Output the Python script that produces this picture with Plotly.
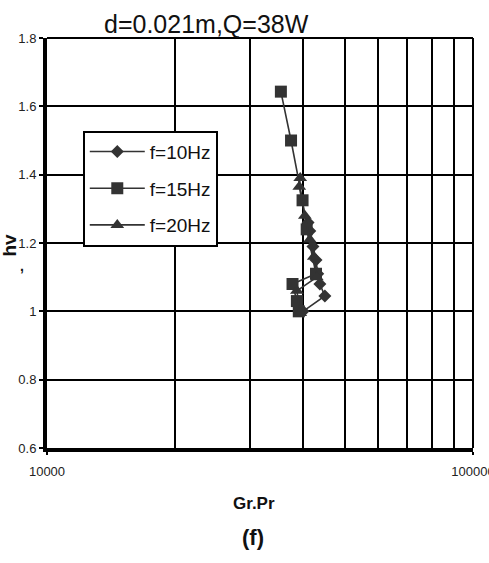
import plotly.graph_objects as go

# ---- data ----
f10_x = [39900, 44900, 43700, 43200, 42800, 42100, 41400, 41000]
f10_y = [1.00, 1.045, 1.08, 1.11, 1.15, 1.19, 1.235, 1.26]

f15_x = [35400, 37400, 39800, 40700, 42800, 37700, 38600, 39000]
f15_y = [1.643, 1.50, 1.325, 1.24, 1.11, 1.08, 1.03, 1.00]

f20_x = [39300, 39100, 40300, 41400, 42300, 43000, 38600, 39300]
f20_y = [1.39, 1.365, 1.28, 1.21, 1.16, 1.10, 1.06, 0.995]

series_names = ["f=10Hz", "f=15Hz", "f=20Hz"]
x_ticks = [10000, 100000]
x_ticktext = ["10000", "100000"]
x_minor = [20000, 30000, 40000, 50000, 60000, 70000, 80000, 90000]
y_ticks = [0.6, 0.8, 1.0, 1.2, 1.4, 1.6, 1.8]
y_ticktext = ["0.6", "0.8", "1", "1.2", "1.4", "1.6", "1.8"]

FONT = "Arial, Liberation Sans, sans-serif"
MARK = "#333333"

fig = go.Figure()
specs = [(f10_x, f10_y, "diamond", 10), (f15_x, f15_y, "square", 12), (f20_x, f20_y, "triangle-up", 12)]
for name, (xs, ys, sym, sz) in zip(series_names, specs):
    fig.add_trace(go.Scatter(
        x=xs, y=ys, mode="lines+markers", name=name, legendgroup=name,
        line=dict(color=MARK, width=1.6),
        marker=dict(symbol=sym, size=sz, color=MARK, line=dict(width=0)),
    ))

fig.update_layout(
    width=489, height=563,
    margin=dict(l=47, r=16, t=38, b=115, autoexpand=False),
    paper_bgcolor="white", plot_bgcolor="white",
    font=dict(family=FONT, color="#222222", size=13),
    showlegend=True,
    legend=dict(
        x=0.084, y=0.774, xanchor="left", yanchor="top",
        bgcolor="white", bordercolor="black", borderwidth=2,
        font=dict(family=FONT, size=19, color="#111111"),
        tracegroupgap=9, itemwidth=55,
    ),
    xaxis=dict(
        type="log", range=[4, 5],
        tickvals=x_ticks, ticktext=x_ticktext,
        ticklabeloverflow="allow", ticklabelstandoff=5,
        showgrid=False, zeroline=False,
        showline=True, linecolor="black", linewidth=4,
        ticks="outside", ticklen=3, tickwidth=2, tickcolor="black",
        tickfont=dict(size=13, color="#222222"),
        minor=dict(tickvals=x_minor, showgrid=True, gridcolor="black", gridwidth=2, ticks=""),
    ),
    yaxis=dict(
        range=[0.6, 1.8],
        tickvals=y_ticks, ticktext=y_ticktext,
        showgrid=True, gridcolor="black", gridwidth=2, zeroline=False,
        showline=True, linecolor="black", linewidth=4,
        ticks="outside", ticklen=4, tickwidth=2, tickcolor="black",
        tickfont=dict(size=13, color="#222222"),
    ),
    shapes=[
        dict(type="line", xref="paper", yref="paper", x0=0, x1=1, y0=1, y1=1,
             line=dict(color="black", width=2)),
        dict(type="line", xref="paper", yref="paper", x0=1, x1=1, y0=0, y1=1,
             line=dict(color="black", width=2)),
    ],
    annotations=[
        dict(text="d=0.021m,Q=38W", xref="paper", yref="paper", x=0.375, y=1.035,
             xanchor="center", yanchor="middle", showarrow=False,
             font=dict(family=FONT, size=25, color="#111111")),
        dict(text="<b>Gr.Pr</b>", xref="paper", yref="paper", x=0.487, y=-0.135,
             xanchor="center", yanchor="middle", showarrow=False,
             font=dict(family=FONT, size=17, color="#111111")),
        dict(text="<b>(f)</b>", xref="paper", yref="paper", x=0.483, y=-0.218,
             xanchor="center", yanchor="middle", showarrow=False,
             font=dict(family=FONT, size=22, color="#111111")),
        dict(text="<b>hv</b>", xref="paper", yref="paper", x=-0.088, y=0.495,
             xanchor="center", yanchor="middle", showarrow=False, textangle=-90,
             font=dict(family=FONT, size=19, color="#111111")),
        dict(text="<b>,</b>", xref="paper", yref="paper", x=-0.058, y=0.445,
             xanchor="center", yanchor="middle", showarrow=False,
             font=dict(family=FONT, size=14, color="#111111")),
    ],
)

fig.write_html(
    "out.html",
    config={"displayModeBar": False},
    post_script="document.body.style.margin='0';document.body.style.overflow='hidden';",
)
